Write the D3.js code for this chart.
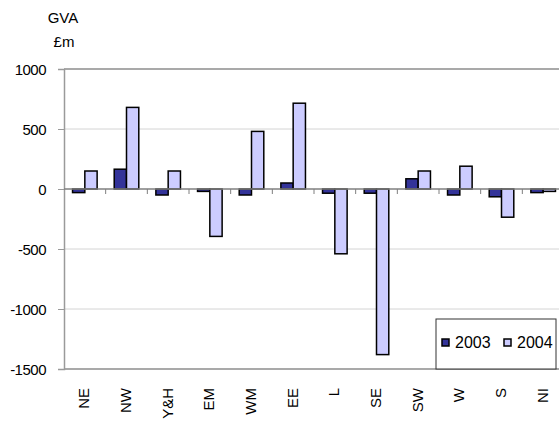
<!DOCTYPE html>
<html>
<head>
<meta charset="utf-8">
<script src="https://cdn.jsdelivr.net/npm/d3@7"></script>
<style>
  body { margin: 0; background: #fff; }
  svg { display: block; font-family: "Liberation Sans", Arial, sans-serif; }
</style>
</head>
<body>
<div id="chart"></div>
<script>
// regions and GVA change (£m)
let regions = ["NE", "NW", "Y&H", "EM", "WM", "EE", "L", "SE", "SW", "W", "S", "NI"]
let years = ["2003", "2004"]
let gva2003 = [-30, 165, -50, -20, -50, 50, -35, -35, 85, -50, -65, -30]
let gva2004 = [150, 680, 150, -395, 480, 715, -540, -1380, 150, 190, -235, -20]
let yTicks = [1000, 500, 0, -500, -1000, -1500]
let colors = ["#333399", "#ccccff"]

let width = 559, height = 434
let margin = {top: 69, left: 64, bottom: 65}
let plotRight = 564

let svg = d3.select("#chart")
    .append("svg")
    .attr("width", width)
    .attr("height", height)

let y = d3.scaleLinear()
    .domain([-1500, 1000])
    .range([height - margin.bottom, margin.top])

let x0 = d3.scaleBand()
    .domain(regions)
    .range([margin.left, plotRight])
    .paddingInner(0.41)
    .paddingOuter(0.205)

let step = x0.step()

let x1 = d3.scaleBand()
    .domain(years)
    .range([0, x0.bandwidth()])

// gridlines (light) for interior ticks
svg.append("g")
    .selectAll("line")
    .data(yTicks.filter(d => d != 1000 && d != -1500 && d != 0))
    .enter()
    .append("line")
    .attr("x1", margin.left).attr("x2", plotRight)
    .attr("y1", d => y(d)).attr("y2", d => y(d))
    .attr("stroke", "#d4d4d4")
    .attr("stroke-width", 1)

// plot area border top and bottom
svg.append("g")
    .selectAll("line")
    .data([1000, -1500])
    .enter()
    .append("line")
    .attr("x1", margin.left).attr("x2", plotRight)
    .attr("y1", d => y(d)).attr("y2", d => y(d))
    .attr("stroke", "#8c8c8c")
    .attr("stroke-width", 1.5)

// y axis
let yAxis = svg.append("g")
    .attr("transform", `translate(${margin.left},0)`)
    .call(d3.axisLeft(y).tickValues(yTicks).tickSize(6).tickFormat(d => d))

yAxis.select(".domain").attr("stroke", "#9a9a9a").attr("stroke-width", 1.5)
yAxis.selectAll(".tick line").attr("stroke", "#9a9a9a")
yAxis.selectAll(".tick text")
    .attr("x", -18)
    .attr("dy", "0.35em")
    .style("font-size", "15px")
    .style("letter-spacing", "-0.5px")
    .attr("fill", "#000")

// bars
let groups = svg.append("g")
    .selectAll("g")
    .data(regions)
    .enter()
    .append("g")
    .attr("transform", d => `translate(${x0(d)},0)`)

groups.selectAll("rect")
    .data((d, i) => [{year: "2003", value: gva2003[i]}, {year: "2004", value: gva2004[i]}])
    .enter()
    .append("rect")
    .attr("x", d => x1(d.year))
    .attr("y", d => y(Math.max(0, d.value)))
    .attr("width", x1.bandwidth())
    .attr("height", d => Math.abs(y(d.value) - y(0)))
    .attr("fill", (d, i) => colors[i])
    .attr("stroke", "#000")
    .style("stroke-width", "1.5px")

// category axis at zero
let zero = y(0)
svg.append("line")
    .attr("x1", margin.left).attr("x2", plotRight)
    .attr("y1", zero).attr("y2", zero)
    .attr("stroke", "#7f7f7f")
    .attr("stroke-width", 1.5)

svg.append("g")
    .selectAll("line")
    .data(d3.range(1, regions.length + 1))
    .enter()
    .append("line")
    .attr("x1", d => margin.left + d * step).attr("x2", d => margin.left + d * step)
    .attr("y1", zero).attr("y2", zero + 5)
    .attr("stroke", "#7f7f7f")
    .attr("stroke-width", 1)

// category labels (rotated)
svg.append("g")
    .selectAll("text")
    .data(regions)
    .enter()
    .append("text")
    .text(d => d)
    .attr("transform", d => `translate(${x0(d) + x0.bandwidth() / 2 - 1},${height - margin.bottom + 19}) rotate(-90)`)
    .attr("text-anchor", "end")
    .attr("dy", "0.36em")
    .style("font-size", "15px")

// axis title
svg.append("text")
    .attr("x", 63).attr("y", 23)
    .attr("text-anchor", "middle")
    .style("font-size", "15px")
    .text("GVA")
svg.append("text")
    .attr("x", 64).attr("y", 47)
    .attr("text-anchor", "middle")
    .style("font-size", "15px")
    .text("£m")

// legend
let legend = svg.append("g")
    .attr("transform", "translate(436,319)")

legend.append("rect")
    .attr("width", 120)
    .attr("height", 50)
    .attr("fill", "#fff")
    .attr("stroke", "#333")
    .attr("stroke-width", 1)

legend.selectAll(".sw")
    .data(years)
    .enter()
    .append("rect")
    .attr("class", "sw")
    .attr("x", (d, i) => 6 + i * 62)
    .attr("y", 20)
    .attr("width", 7)
    .attr("height", 7)
    .attr("fill", (d, i) => colors[i])
    .attr("stroke", "#000")
    .style("stroke-width", "1.5px")

legend.selectAll(".lt")
    .data(years)
    .enter()
    .append("text")
    .attr("class", "lt")
    .attr("x", (d, i) => 19 + i * 62)
    .attr("y", 29)
    .style("font-size", "16px")
    .text(d => d)
</script>
</body>
</html>
